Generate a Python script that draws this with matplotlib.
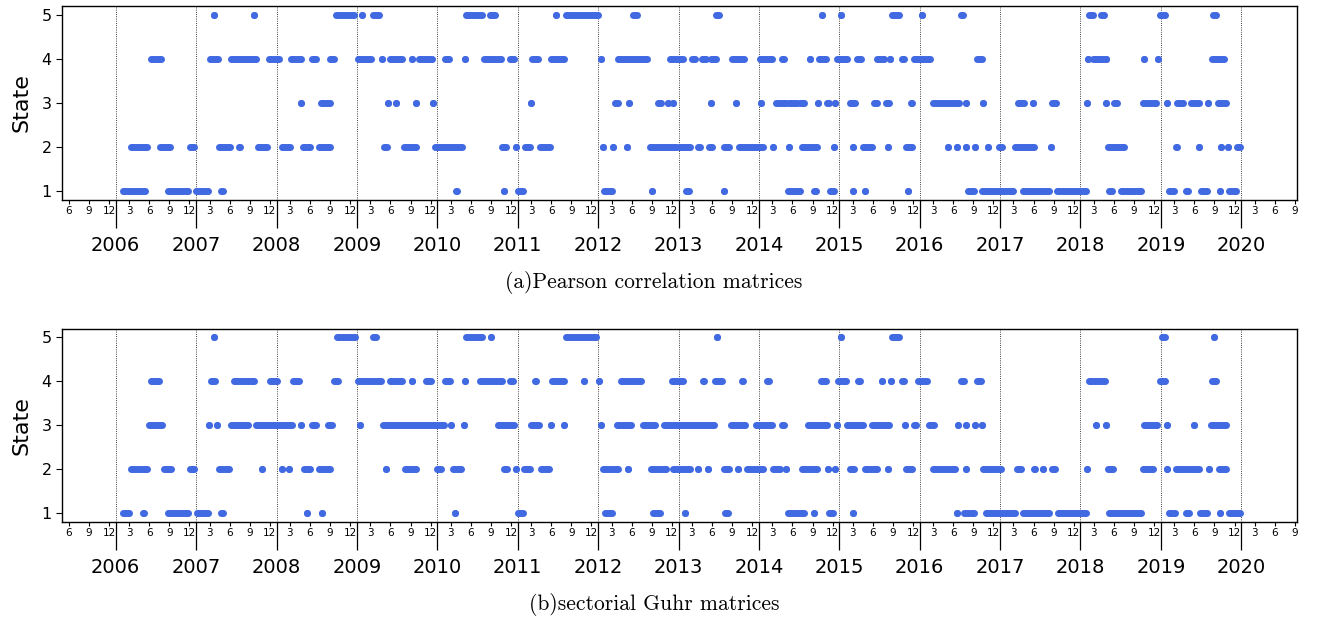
import numpy as np
import matplotlib
matplotlib.use("Agg")
import matplotlib.pyplot as plt
from matplotlib.ticker import FixedLocator, FixedFormatter

# runs of consecutive days in the same state, (start, end) in decimal years
pearson_s5 = [(2007.22, 2007.22), (2007.72, 2007.72), (2008.735, 2008.967), (2009.06, 2009.06),
              (2009.195, 2009.28), (2010.36, 2010.556), (2010.66, 2010.72), (2011.48, 2011.48),
              (2011.60, 2012.0), (2012.44, 2012.49), (2013.47, 2013.50), (2014.78, 2014.79),
              (2015.02, 2015.02), (2015.655, 2015.74), (2016.03, 2016.03), (2016.51, 2016.54),
              (2018.11, 2018.16), (2018.26, 2018.29), (2018.99, 2019.05), (2019.65, 2019.68)]
pearson_s4 = [(2006.435, 2006.56), (2007.17, 2007.27), (2007.44, 2007.745), (2007.91, 2008.035),
              (2008.175, 2008.30), (2008.44, 2008.49), (2008.67, 2008.72), (2009.01, 2009.17),
              (2009.31, 2009.31), (2009.41, 2009.56), (2009.68, 2009.68), (2009.77, 2009.94),
              (2010.10, 2010.15), (2010.34, 2010.34), (2010.58, 2010.79), (2010.90, 2010.95),
              (2011.18, 2011.25), (2011.42, 2011.57), (2012.03, 2012.03), (2012.245, 2012.61),
              (2012.89, 2013.06), (2013.17, 2013.21), (2013.295, 2013.34), (2013.40, 2013.47),
              (2013.66, 2013.82), (2014.01, 2014.16), (2014.29, 2014.31), (2014.64, 2014.64),
              (2014.75, 2014.83), (2014.97, 2015.10), (2015.22, 2015.27), (2015.47, 2015.55),
              (2015.63, 2015.63), (2015.78, 2015.80), (2015.93, 2016.13), (2016.71, 2016.77),
              (2018.09, 2018.09), (2018.16, 2018.28), (2018.315, 2018.315), (2018.785, 2018.785),
              (2018.96, 2018.96), (2019.63, 2019.79)]
pearson_s3 = [(2008.31, 2008.31), (2008.55, 2008.67), (2009.39, 2009.39), (2009.49, 2009.49),
              (2009.74, 2009.74), (2009.95, 2009.95), (2011.16, 2011.16), (2012.21, 2012.25),
              (2012.39, 2012.39), (2012.75, 2012.78), (2012.87, 2012.87), (2012.93, 2012.93),
              (2013.41, 2013.41), (2013.72, 2013.72), (2014.03, 2014.03), (2014.21, 2014.34),
              (2014.38, 2014.47), (2014.51, 2014.56), (2014.73, 2014.73), (2014.85, 2014.87),
              (2014.95, 2014.95), (2015.13, 2015.195), (2015.435, 2015.47), (2015.58, 2015.62),
              (2015.89, 2015.91), (2016.16, 2016.49), (2016.57, 2016.57), (2016.79, 2016.79),
              (2017.22, 2017.30), (2017.41, 2017.41), (2017.65, 2017.69), (2018.08, 2018.08),
              (2018.32, 2018.32), (2018.42, 2018.46), (2018.78, 2018.94), (2019.07, 2019.07),
              (2019.195, 2019.27), (2019.37, 2019.48), (2019.59, 2019.59), (2019.705, 2019.81)]
pearson_s2 = [(2006.19, 2006.39), (2006.555, 2006.68), (2006.92, 2006.98), (2007.285, 2007.425),
              (2007.53, 2007.55), (2007.77, 2007.88), (2008.07, 2008.17), (2008.33, 2008.42),
              (2008.53, 2008.665), (2009.34, 2009.37), (2009.585, 2009.74), (2009.97, 2010.31),
              (2010.81, 2010.86), (2010.975, 2010.975), (2011.09, 2011.15), (2011.28, 2011.40),
              (2012.06, 2012.06), (2012.18, 2012.18), (2012.36, 2012.36), (2012.64, 2012.975),
              (2013.0, 2013.14), (2013.24, 2013.27), (2013.38, 2013.415), (2013.56, 2013.63),
              (2013.75, 2014.05), (2014.18, 2014.18), (2014.38, 2014.38), (2014.535, 2014.72),
              (2014.94, 2014.94), (2015.165, 2015.165), (2015.295, 2015.41), (2015.60, 2015.60),
              (2015.83, 2015.91), (2016.35, 2016.35), (2016.47, 2016.47), (2016.58, 2016.58),
              (2016.69, 2016.69), (2016.855, 2016.855), (2016.99, 2017.02), (2017.19, 2017.42),
              (2017.63, 2017.63), (2018.34, 2018.535), (2019.19, 2019.20), (2019.48, 2019.48),
              (2019.75, 2019.75), (2019.83, 2019.83), (2019.95, 2019.99)]
pearson_s1 = [(2006.095, 2006.365), (2006.645, 2006.895), (2007.0, 2007.145), (2007.31, 2007.34),
              (2010.23, 2010.25), (2010.83, 2010.83), (2011.0, 2011.06), (2012.075, 2012.17),
              (2012.67, 2012.67), (2013.09, 2013.125), (2013.57, 2013.57), (2014.36, 2014.51),
              (2014.69, 2014.71), (2014.88, 2014.94), (2015.17, 2015.17), (2015.32, 2015.32),
              (2015.85, 2015.86), (2016.60, 2016.68), (2016.78, 2017.16), (2017.28, 2017.61),
              (2017.71, 2018.07), (2018.36, 2018.39), (2018.50, 2018.75), (2019.095, 2019.165),
              (2019.315, 2019.335), (2019.50, 2019.57), (2019.73, 2019.73), (2019.845, 2019.93)]

guhr_s5 = [(2007.22, 2007.22), (2008.755, 2008.975), (2009.195, 2009.24), (2010.36, 2010.556),
           (2010.67, 2010.67), (2011.605, 2011.98), (2013.48, 2013.48), (2015.02, 2015.02),
           (2015.66, 2015.745), (2019.01, 2019.045), (2019.655, 2019.655)]
guhr_s4 = [(2006.44, 2006.54), (2007.18, 2007.235), (2007.475, 2007.725), (2007.915, 2008.0),
           (2008.21, 2008.275), (2008.72, 2008.77), (2009.01, 2009.30), (2009.415, 2009.565),
           (2009.68, 2009.68), (2009.86, 2009.925), (2010.10, 2010.16), (2010.34, 2010.34),
           (2010.535, 2010.81), (2010.91, 2010.94), (2011.21, 2011.23), (2011.43, 2011.58),
           (2011.83, 2011.83), (2012.01, 2012.01), (2012.28, 2012.535), (2012.92, 2013.06),
           (2013.30, 2013.315), (2013.46, 2013.535), (2013.785, 2013.80), (2014.10, 2014.13),
           (2014.775, 2014.83), (2014.99, 2015.08), (2015.235, 2015.255), (2015.53, 2015.53),
           (2015.64, 2015.64), (2015.78, 2015.80), (2015.98, 2016.095), (2016.51, 2016.545),
           (2016.71, 2016.76), (2018.10, 2018.30), (2018.985, 2019.055), (2019.64, 2019.68)]
guhr_s3 = [(2006.42, 2006.575), (2007.16, 2007.16), (2007.26, 2007.26), (2007.44, 2007.64),
           (2007.75, 2008.19), (2008.30, 2008.30), (2008.44, 2008.495), (2008.64, 2008.69),
           (2009.04, 2009.04), (2009.33, 2010.08), (2010.17, 2010.17), (2010.33, 2010.33),
           (2010.755, 2010.95), (2011.16, 2011.26), (2011.42, 2011.42), (2011.58, 2011.58),
           (2012.04, 2012.04), (2012.24, 2012.415), (2012.56, 2012.705), (2012.82, 2013.44),
           (2013.65, 2013.825), (2013.97, 2014.16), (2014.29, 2014.315), (2014.61, 2014.85),
           (2014.97, 2014.97), (2015.10, 2015.29), (2015.41, 2015.62), (2015.82, 2015.82),
           (2015.93, 2015.95), (2016.12, 2016.18), (2016.48, 2016.48), (2016.57, 2016.57),
           (2016.69, 2016.69), (2016.77, 2016.77), (2018.195, 2018.195), (2018.315, 2018.315),
           (2018.785, 2018.95), (2019.07, 2019.07), (2019.415, 2019.415), (2019.62, 2019.805)]
guhr_s2 = [(2006.19, 2006.385), (2006.60, 2006.69), (2006.92, 2006.98), (2007.285, 2007.41),
           (2007.815, 2007.815), (2008.065, 2008.065), (2008.15, 2008.15), (2008.34, 2008.42),
           (2008.525, 2008.665), (2009.36, 2009.36), (2009.60, 2009.74), (2010.0, 2010.04),
           (2010.195, 2010.30), (2010.835, 2010.87), (2010.98, 2010.98), (2011.08, 2011.15),
           (2011.29, 2011.39), (2012.06, 2012.25), (2012.37, 2012.37), (2012.66, 2012.84),
           (2012.93, 2013.14), (2013.245, 2013.245), (2013.37, 2013.37), (2013.56, 2013.63),
           (2013.745, 2013.745), (2013.855, 2014.055), (2014.18, 2014.26), (2014.34, 2014.34),
           (2014.53, 2014.72), (2014.86, 2014.86), (2014.95, 2014.95), (2015.13, 2015.18),
           (2015.315, 2015.47), (2015.61, 2015.61), (2015.83, 2015.91), (2016.17, 2016.44),
           (2016.57, 2016.57), (2016.79, 2017.01), (2017.21, 2017.26), (2017.42, 2017.44),
           (2017.53, 2017.53), (2017.64, 2017.685), (2018.08, 2018.08), (2018.34, 2018.41),
           (2018.775, 2018.90), (2019.08, 2019.08), (2019.19, 2019.47), (2019.60, 2019.60),
           (2019.72, 2019.81)]
guhr_s1 = [(2006.095, 2006.16), (2006.335, 2006.355), (2006.645, 2006.895), (2007.005, 2007.145),
           (2007.31, 2007.34), (2008.38, 2008.38), (2008.565, 2008.565), (2010.215, 2010.215),
           (2011.0, 2011.06), (2012.08, 2012.17), (2012.68, 2012.77), (2013.08, 2013.08),
           (2013.58, 2013.61), (2014.365, 2014.565), (2014.685, 2014.685), (2014.875, 2014.92),
           (2015.17, 2015.17), (2016.46, 2016.46), (2016.545, 2016.68), (2016.825, 2017.18),
           (2017.28, 2017.61), (2017.72, 2018.07), (2018.36, 2018.75), (2019.10, 2019.18),
           (2019.31, 2019.345), (2019.49, 2019.57), (2019.73, 2019.73), (2019.845, 2019.99)]

pearson_runs = [pearson_s1, pearson_s2, pearson_s3, pearson_s4, pearson_s5]
guhr_runs = [guhr_s1, guhr_s2, guhr_s3, guhr_s4, guhr_s5]

years = list(range(2006, 2021))
month_ticks = [3, 6, 9, 12]
x_min, x_max = 2005.332, 2020.693

dot_color = "royalblue"
dot = 5.0


def draw_panel(ax, runs, caption, cap_y):
    for state, state_runs in enumerate(runs, start=1):
        for s, e in state_runs:
            ax.plot([s, e], [state, state], color=dot_color, lw=dot, marker="o",
                    ms=dot, mew=0, solid_capstyle="butt", zorder=3)
    for y in years:
        ax.axvline(y, color="k", ls=":", lw=0.6, zorder=1)
    ax.set_xlim(x_min, x_max)
    ax.set_ylim(0.8, 5.2)
    ax.set_yticks([1, 2, 3, 4, 5])
    ax.tick_params(axis="y", labelsize=11.5, length=4)
    ax.set_ylabel("State", fontsize=16, labelpad=7)

    # months as minor ticks, years as long major ticks below them
    minor_pos, minor_lab = [], []
    for y in range(2005, 2021):
        for m in month_ticks:
            p = y + (m - 1) / 12
            if x_min <= p <= x_max:
                minor_pos.append(p)
                minor_lab.append(str(m))
    ax.xaxis.set_major_locator(FixedLocator(years))
    ax.xaxis.set_major_formatter(FixedFormatter([str(y) for y in years]))
    ax.xaxis.set_minor_locator(FixedLocator(minor_pos))
    ax.xaxis.set_minor_formatter(FixedFormatter(minor_lab))
    ax.tick_params(axis="x", which="major", length=20, width=0.9, pad=6, labelsize=14)
    ax.tick_params(axis="x", which="minor", length=3, width=0.8, pad=1.5, labelsize=7.5)
    for sp in ax.spines.values():
        sp.set_linewidth(1.0)

    fig.text(654 / 1322, cap_y, caption, family="cmr10", fontsize=15.5,
             ha="center", va="center")


fig = plt.figure(figsize=(13.22, 6.25), dpi=100)
ax1 = fig.add_axes([0.0469, 0.680, 0.9342, 0.3104])
ax2 = fig.add_axes([0.0469, 0.1648, 0.9342, 0.3096])

draw_panel(ax1, pearson_runs, "(a)Pearson correlation matrices", 1 - 283 / 625)
draw_panel(ax2, guhr_runs, "(b)sectorial Guhr matrices", 1 - 604 / 625)

fig.savefig("out.png", dpi=100)
